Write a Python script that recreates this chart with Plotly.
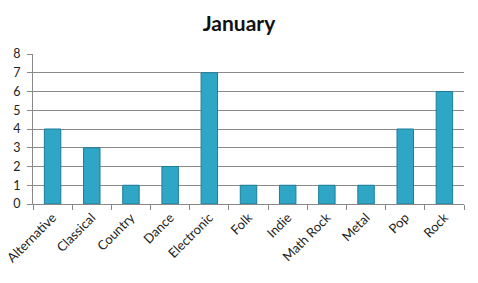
import plotly.graph_objects as go

categories = ["Alternative", "Classical", "Country", "Dance", "Electronic", "Folk",
              "Indie", "Math Rock", "Metal", "Pop", "Rock"]
values = [4, 3, 1, 2, 7, 1, 1, 1, 1, 4, 6]
y_ticks = [0, 1, 2, 3, 4, 5, 6, 7, 8]

fig = go.Figure()
fig.add_trace(go.Bar(
    x=categories, y=values,
    marker=dict(color="#30A6C6", line=dict(color="#1C7D98", width=1)),
    width=0.42,
))

fig.update_layout(
    width=478, height=283,
    margin=dict(l=33, r=14, t=54, b=79),
    paper_bgcolor="white", plot_bgcolor="white",
    title=dict(text="<b>January</b>", x=0.5, xanchor="center", y=0.915, yanchor="middle",
               font=dict(family="Lato", size=21, color="#111111")),
    font=dict(family="Lato", size=13, color="#222222"),
    showlegend=False,
)
fig.update_xaxes(
    type="category", tickangle=-45, showgrid=False, automargin=False,
    showline=True, linecolor="#888888", linewidth=1,
    ticks="outside", tickson="boundaries", ticklen=5, tickcolor="#888888",
    tickfont=dict(family="Lato", size=13, color="#222222"),
)
fig.update_yaxes(
    range=[0, 8], tickvals=y_ticks, showgrid=True, gridcolor="#8a8a8a", gridwidth=1,
    showline=True, linecolor="#888888", linewidth=1, automargin=False,
    ticks="outside", ticklen=5, tickcolor="#888888", zeroline=False,
    ticklabelstandoff=4,
    tickfont=dict(family="Lato", size=12.5, color="#222222"),
)

fig.write_html("out.html")
